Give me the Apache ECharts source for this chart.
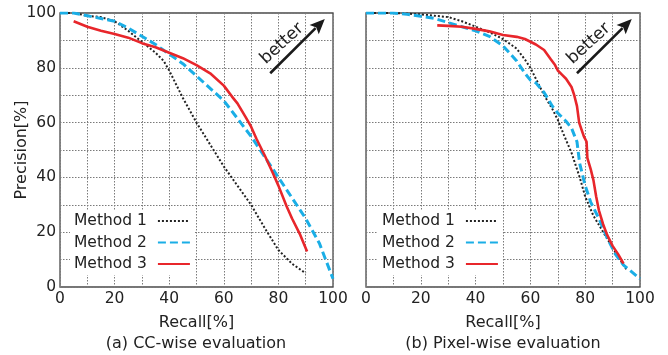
<!DOCTYPE html>
<html>
<head>
<meta charset="utf-8">
<script src="https://cdn.jsdelivr.net/npm/echarts@6/dist/echarts.min.js"></script>
<style>
html,body{margin:0;padding:0;background:#fff;}
#chart{width:668px;height:355px;}
</style>
</head>
<body>
<div id="chart"></div>
<script>
// ---- Data (Recall %, Precision %) ----
const seriesNames = ['Method 1', 'Method 2', 'Method 3'];
const panelTitles = ['(a) CC-wise evaluation', '(b) Pixel-wise evaluation'];
const xAxisName = 'Recall[%]';
const yAxisName = 'Precision[%]';

// (a) CC-wise
const m1CC = [[0,100],[5,100],[10,99],[15,98.5],[20,97],[25,93.5],[30,89.5],[35,85.5],[38,82.5],[40,79],[42,75],[45,69],[50,60],[55,52],[60,44],[65,37],[70,30],[75,21.5],[80,13.5],[85,8.5],[90,5]];
const m2CC = [[0,100],[5,100],[10,99],[15,98],[20,97],[25,94.5],[30,91.5],[35,88.5],[40,85],[45,81.5],[50,77],[55,72.5],[60,68],[65,61.5],[70,55],[75,47.5],[80,40],[85,32.5],[90,25],[95,16],[100,3]];
const m3CC = [[5,97],[10,95],[15,93.5],[20,92.3],[25,91],[30,89],[35,87.5],[40,85.5],[45,83.5],[50,81],[55,78],[60,73.5],[63,69.5],[65,67],[68,62],[70,58.5],[72,54],[75,48],[78,41.5],[80,37],[83,29.5],[85,25],[88,19],[90.5,13]];

// (b) Pixel-wise
const m1Px = [[0,100],[10,100],[20,99.5],[25,99],[30,98.5],[35,97],[40,95],[45,93],[50,90.5],[55,87],[58,83],[60,80],[62,76],[65,70],[68,65],[70,61],[72,56],[75,49],[78,40],[80,33],[83,26],[86,21],[89,16],[92,11],[95,6.5]];
const m2Px = [[0,100],[10,100],[15,99.5],[20,98.8],[25,98],[30,96.5],[35,95],[40,93.5],[45,91.5],[50,88],[55,82.5],[58,78],[60,75.5],[62,74.5],[65,71],[68,66],[70,63.5],[73,60.5],[75,58],[77,53],[78,45],[80,37],[82,31],[85,25],[88,18],[91,12],[94,8],[97,5.5],[100,3]];
const m3Px = [[26,95.5],[30,95.3],[35,95],[40,94.2],[45,93.3],[50,92],[55,91.3],[58,90.5],[62,88.5],[65,86.5],[67.5,83],[69,81],[70,79],[71.5,77.5],[73,76],[75,73],[76,70],[77,66],[77.8,60],[79.5,55],[80.5,53],[80.8,47],[82,43],[83,39],[84,33],[85,28],[86.5,23],[88,19],[90,15],[92,12],[94,8.5]];

// arrow annotation ("better") in data coordinates
const arrowStart = [77, 78];
const arrowTip = [97, 97.8];
const betterPos = [81.3, 88.8];

const FONT = 'DejaVu Sans';
const TXT = '#222';
const styles = [
  {color:'#222', width:2, type:[2,2]},
  {color:'#1aaee6', width:3, type:[8,4]},
  {color:'#e8262b', width:2.6, type:'solid'}
];

const chart = echarts.init(document.getElementById('chart'), null, {renderer:'canvas'});

function xAx(i){
  return {
    gridIndex:i, type:'value', min:0, max:100, interval:10,
    name: xAxisName, nameLocation:'middle', nameGap:28, nameMoveOverlap:false,
    nameTextStyle:{fontFamily:FONT, fontSize:16, color:TXT},
    axisLine:{show:false}, axisTick:{show:false},
    axisLabel:{fontFamily:FONT, fontSize:15.5, color:TXT, margin:4,
      formatter: v => (v % 20 === 0 ? String(v) : '')},
    splitLine:{show:true, lineStyle:{color:'#7a7a7a', width:1, type:[1.5,1.5]}}
  };
}
function yAx(i, labels){
  return {
    gridIndex:i, type:'value', min:0, max:100, interval:10,
    name: labels ? yAxisName : '', nameLocation:'middle', nameGap:30, nameRotate:90, nameMoveOverlap:false,
    nameTextStyle:{fontFamily:FONT, fontSize:16, color:TXT},
    axisLine:{show:false}, axisTick:{show:false},
    axisLabel:{show:labels, fontFamily:FONT, fontSize:15.5, color:TXT, margin:4,
      formatter: v => (v % 20 === 0 ? String(v) : '')},
    splitLine:{show:true, lineStyle:{color:'#7a7a7a', width:1, type:[1.5,1.5]}}
  };
}
function mk(name, data, i, k){
  return {
    name, type:'line', data, xAxisIndex:i, yAxisIndex:i,
    symbol:'none', showSymbol:false, smooth:false, animation:false,
    lineStyle:{color:styles[k].color, width:styles[k].width, type:styles[k].type},
    itemStyle:{color:styles[k].color}, z: 3 + k
  };
}
function legendFor(left){
  return {
    data: seriesNames, orient:'vertical', align:'right', left, top:210,
    itemWidth:32, itemHeight:14, itemGap:5.5,
    backgroundColor:'#fff', padding:[3,4,3,4],
    itemStyle:{opacity:0, color:'transparent', borderColor:'transparent', borderWidth:0},
    textStyle:{fontFamily:FONT, fontSize:15.5, color:TXT, padding:[0,6,0,0]},
    selectedMode:false
  };
}

chart.setOption({
  backgroundColor:'#fff',
  animation:false,
  grid:[
    {left:60, top:13, width:273, height:274, show:true, borderColor:'#4a4a4a', borderWidth:1.3, backgroundColor:'transparent'},
    {left:366, top:13, width:274, height:274, show:true, borderColor:'#4a4a4a', borderWidth:1.3, backgroundColor:'transparent'}
  ],
  xAxis:[xAx(0), xAx(1)],
  yAxis:[yAx(0,true), yAx(1,false)],
  legend:[legendFor(70), legendFor(378)],
  title:[
    {text:panelTitles[0], left:196, top:336, textAlign:'center', padding:0,
      textStyle:{fontFamily:FONT, fontSize:16, fontWeight:'normal', color:TXT}},
    {text:panelTitles[1], left:503, top:336, textAlign:'center', padding:0,
      textStyle:{fontFamily:FONT, fontSize:16, fontWeight:'normal', color:TXT}}
  ],
  series:[
    mk(seriesNames[0], m1CC, 0, 0), mk(seriesNames[1], m2CC, 0, 1), mk(seriesNames[2], m3CC, 0, 2),
    mk(seriesNames[0], m1Px, 1, 0), mk(seriesNames[1], m2Px, 1, 1), mk(seriesNames[2], m3Px, 1, 2)
  ]
});

// arrows "better"
const graphics = [];
[0,1].forEach(i => {
  const s = chart.convertToPixel({gridIndex:i}, arrowStart);
  const t = chart.convertToPixel({gridIndex:i}, arrowTip);
  const b = chart.convertToPixel({gridIndex:i}, betterPos);
  const dx = t[0]-s[0], dy = t[1]-s[1];
  const len = Math.sqrt(dx*dx+dy*dy);
  const ux = dx/len, uy = dy/len;
  const hl = 15, hw = 6.5;
  const bx = t[0]-ux*hl, by = t[1]-uy*hl;
  graphics.push({type:'line', z:10, shape:{x1:s[0], y1:s[1], x2:bx+ux*2, y2:by+uy*2},
    style:{stroke:'#1a1a1a', lineWidth:2.6}});
  graphics.push({type:'polygon', z:10, shape:{points:[[t[0],t[1]],[bx-uy*hw,by+ux*hw],[bx+ux*3,by+uy*3],[bx+uy*hw,by-ux*hw]]},
    style:{fill:'#1a1a1a'}});
  graphics.push({type:'text', z:10, x:b[0], y:b[1], rotation:Math.atan2(-dy,dx)-0.04,
    style:{text:'better', fontFamily:FONT, fontSize:17, fill:TXT, align:'center', verticalAlign:'middle'}});
});
chart.setOption({graphic:graphics});
</script>
</body>
</html>
